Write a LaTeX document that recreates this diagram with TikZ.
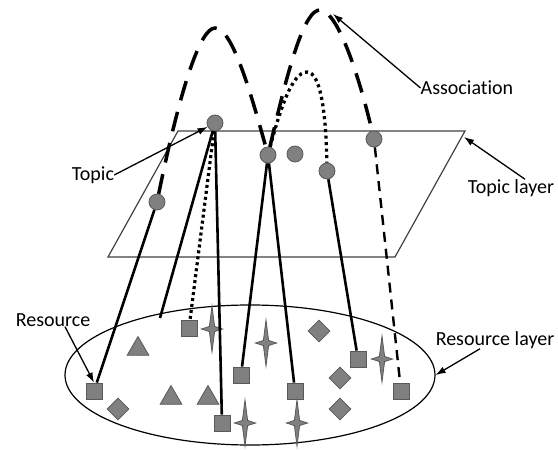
\documentclass[tikz,border=0pt]{standalone}
\usepackage{fontspec}
\setmainfont[RawFeature={-liga;-clig;-calt;-dlig}]{Carlito}
\usetikzlibrary{shapes.geometric,arrows.meta}

\tikzset{spark/.pic={\draw[fill=black!50, draw=black!65, line width=0.8pt]
  (0,-23) -- (2.6,-2.6) -- (10.5,0) -- (2.6,2.6) -- (0,23) -- (-2.6,2.6) -- (-10.5,0) -- (-2.6,-2.6) -- cycle;}}

\begin{document}
\begin{tikzpicture}[x=1pt, y=-1pt,
  topicdot/.style={circle, draw=black!65, fill=black!50, line width=0.8pt, minimum size=16pt, inner sep=0pt},
  resbox/.style={rectangle, draw=black!65, fill=black!50, line width=0.8pt, minimum size=16pt, inner sep=0pt},
  restri/.style={regular polygon, regular polygon sides=3, draw=black!65, fill=black!50, line width=0.8pt, minimum size=25pt, inner sep=0pt},
  resdia/.style={diamond, draw=black!65, fill=black!50, line width=0.8pt, minimum size=22pt, inner sep=0pt},
  conn/.style={line width=2.6pt},
  dotconn/.style={line width=3.2pt, dash pattern=on 3pt off 3pt},
  dashconn/.style={line width=2.4pt, dash pattern=on 10pt off 7pt},
  assocline/.style={line width=3.5pt, dash pattern=on 20pt off 12pt},
  dotassoc/.style={line width=3.3pt, dash pattern=on 3pt off 3.5pt},
  lbl/.style={font=\fontsize{20}{24}\selectfont, inner sep=0pt},
  pointer/.style={line width=1.3pt, -{Latex[length=10pt,width=7pt]}}]
\useasboundingbox (0,0) rectangle (558,450);

% resource layer
\node[draw, ellipse, line width=1.2pt, minimum width=370pt, minimum height=140pt] (reslayer) at (250,375) {};

% topic layer
\coordinate (tl) at (178,131);
\coordinate (tr) at (465,131);
\coordinate (br) at (395,257);
\coordinate (bl) at (108,257);
\draw[line width=1.2pt, black!75] (tl) -- (tr) -- (br) -- (bl) -- cycle;

% topics
\node[topicdot] (T1) at (215,123) {};
\node[topicdot] (T2) at (157,202) {};
\node[topicdot] (T3) at (268,155) {};
\node[topicdot] (T4) at (295,154) {};
\node[topicdot] (T5) at (327,171) {};
\node[topicdot] (T6) at (374,139) {};

% resources
\node[resbox] (S1) at (94,391) {};
\node[resbox] (S2) at (189,328) {};
\node[resbox] (S3) at (241,375) {};
\node[resbox] (S4) at (222,423) {};
\node[resbox] (S5) at (358,359) {};
\node[resbox] (S6) at (295,391) {};
\node[resbox] (S7) at (401,391) {};
\node[restri] (R1) at (138,349) {};
\node[restri] (R2) at (171,398) {};
\node[restri] (R3) at (208,398) {};
\node[resdia] (D1) at (118,409) {};
\node[resdia] (D2) at (319,331) {};
\node[resdia] (D3) at (340,378) {};
\node[resdia] (D4) at (340,409) {};
\pic (St1) at (212,329) {spark};
\pic (St2) at (266,343) {spark};
\pic (St3) at (245,423) {spark};
\pic (St4) at (382,359) {spark};
\pic (St5) at (297,423) {spark};

% occurrences
\coordinate (loose) at (160,318);
\draw[conn] (T2) -- (S1);
\draw[conn] (T1) -- (loose);
\draw[dotconn] (T1) -- (S2);
\draw[conn] (T1) -- (S4);
\draw[conn] (T3) -- (S3);
\draw[conn] (T3) -- (S6);
\draw[conn] (T5) -- (S5);
\draw[dashconn] (T6) -- (S7);

% associations
\coordinate (topA) at (215,28);
\coordinate (topB) at (320,10);
\coordinate (topC) at (307,72);
\draw[assocline] (T2) .. controls (180,90) and (200,28) .. (topA) .. controls (232,28) and (250,90) .. (T3);
\draw[assocline] (T3) .. controls (290,60) and (305,10) .. (topB) .. controls (335,10) and (355,60) .. (T6);
\draw[dotassoc] (T3) .. controls (280,110) and (292,72) .. (topC) .. controls (320,72) and (326,110) .. (T5);

% labels
\node[lbl] (lblAssoc) at (467,88) {Associat\kern0pt ion};
\node[lbl] (lblTopic) at (93,175) {Topic};
\node[lbl] (lblTL) at (511,188) {Topic layer};
\node[lbl] (lblRes) at (53,320) {Resource};
\node[lbl] (lblRL) at (495,340) {Resource layer};
\coordinate (assocTip) at (333,14);
\coordinate (tlTip) at (464,137);
\draw[pointer] (lblAssoc.west) -- (assocTip);
\draw[pointer] (lblTopic.east) -- (T1);
\draw[pointer] ([xshift=14pt]lblTL.north) -- (tlTip);
\draw[pointer] ([xshift=12pt]lblRes.south) -- (S1.north);
\draw[pointer] ([xshift=-15pt]lblRL.south) -- (reslayer.east);
\end{tikzpicture}
\end{document}
